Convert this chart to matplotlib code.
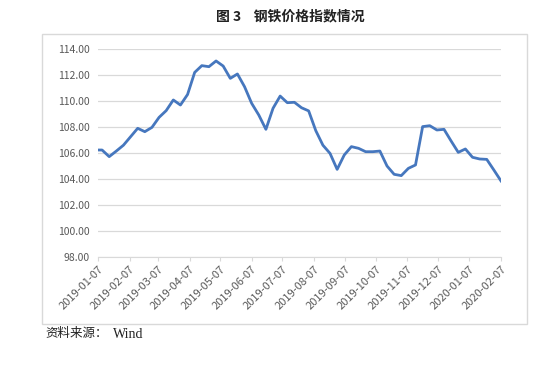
import datetime as dt
import matplotlib.pyplot as plt
from matplotlib.patches import Rectangle

plt.rcParams['font.family'] = ['Noto Sans CJK SC', 'DejaVu Sans']

# weekly steel price index (first point Monday, then Fridays)
dates = [dt.date(2019, 1, 7)] + [dt.date(2019, 1, 11) + dt.timedelta(days=7 * i) for i in range(57)]
values = [
    106.23, 106.23, 105.72, 106.15, 106.60, 107.25, 107.90, 107.64, 107.97, 108.74,
    109.26, 110.08, 109.69, 110.50, 112.20, 112.72, 112.64, 113.08, 112.69, 111.74,
    112.08, 111.10, 109.82, 108.92, 107.82, 109.44, 110.38, 109.87, 109.90, 109.48,
    109.24, 107.72, 106.60, 105.97, 104.74, 105.85, 106.49, 106.36, 106.10, 106.10,
    106.15, 105.00, 104.36, 104.26, 104.82, 105.08, 108.03, 108.10, 107.77, 107.82,
    106.92, 106.05, 106.31, 105.67, 105.54, 105.51, 104.69, 103.85,
]
tick_dates = [dt.date(2019 + (m // 12), m % 12 + 1, 7) for m in range(14)]
y_ticks = [98, 100, 102, 104, 106, 108, 110, 112, 114]

fig = plt.figure(figsize=(5.5, 3.68), dpi=100)
ax = fig.add_axes([98 / 550, 1 - 257 / 368, 403 / 550, 208 / 368])

# outer chart border
fig.patches.append(Rectangle((42 / 550, 1 - 324 / 368), 485 / 550, 290 / 368,
                             transform=fig.transFigure, fill=False,
                             edgecolor='#D9D9D9', linewidth=1.0))

ax.plot(dates, values, color='#4677BE', linewidth=2.0, solid_joinstyle='round')

ax.set_xlim(dt.date(2019, 1, 7), dt.date(2020, 2, 7))
ax.set_ylim(98, 114)
ax.set_yticks(y_ticks)
ax.set_yticklabels([f"{v:.2f}" for v in y_ticks])
ax.set_xticks(tick_dates)
ax.set_xticklabels([d.strftime('%Y-%m-%d') for d in tick_dates], rotation=45,
                   ha='right', rotation_mode='anchor')
ax.grid(axis='y', color='#D9D9D9', linewidth=0.9)
ax.set_axisbelow(True)
for side in ['top', 'right', 'left']:
    ax.spines[side].set_visible(False)
ax.spines['bottom'].set_color('#D9D9D9')
ax.tick_params(axis='y', length=0, labelsize=7.5, labelcolor='#595959', pad=6)
ax.tick_params(axis='x', length=3, color='#D9D9D9', labelsize=8,
               labelcolor='#595959', pad=2)

fig.text(0.527, 1 - 16 / 368, '图 3    钢铁价格指数情况', ha='center', va='center',
         fontsize=10, fontweight='bold', color='#222222')
fig.text(45 / 550, 1 - 334 / 368, '资料来源：', ha='left', va='center',
         fontsize=9, color='#222222')
fig.text(113 / 550, 1 - 334 / 368, 'Wind', ha='left', va='center',
         fontsize=10, color='#222222', family='Liberation Serif')

fig.savefig('out.png', dpi=100)
